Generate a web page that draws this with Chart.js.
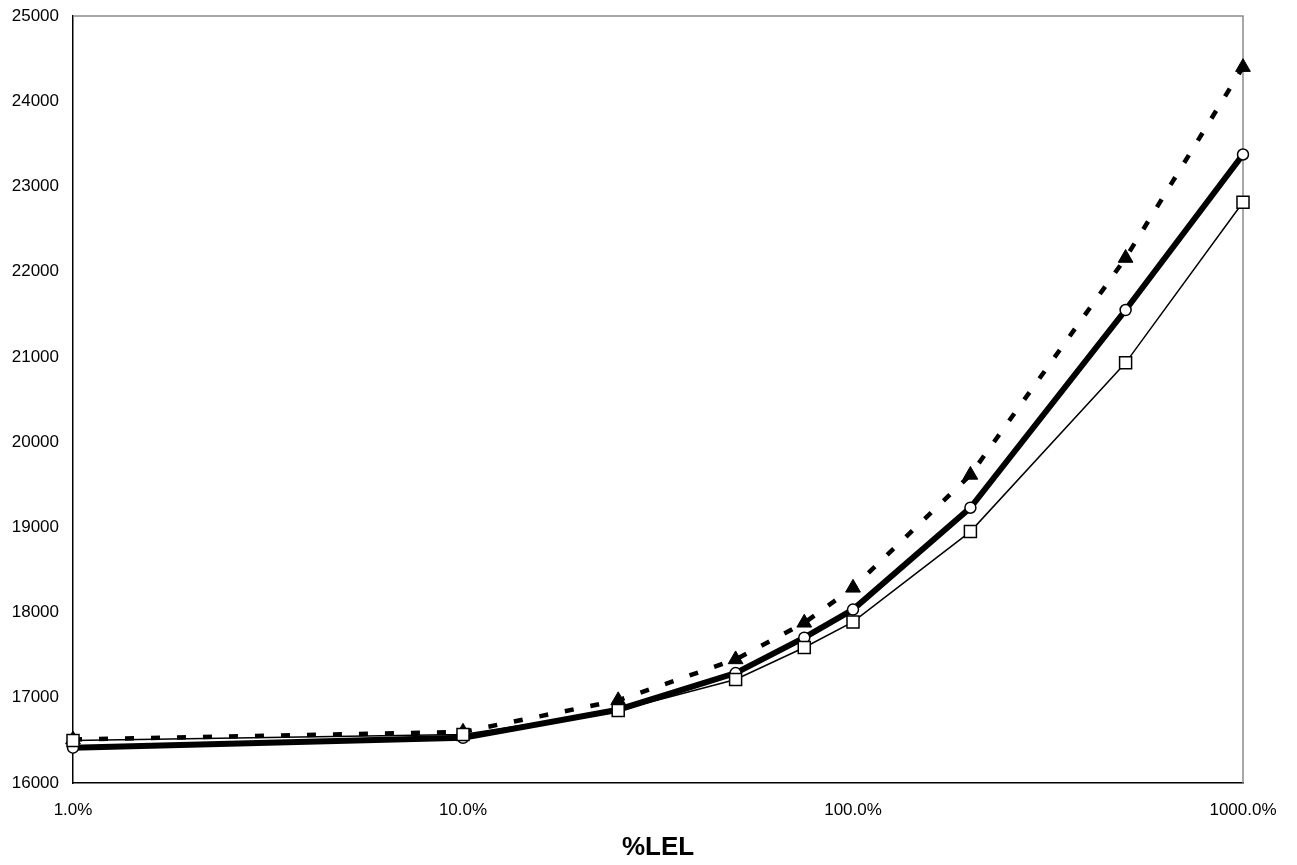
<!DOCTYPE html>
<html>
<head>
<meta charset="utf-8">
<script src="https://cdn.jsdelivr.net/npm/chart.js@4/dist/chart.umd.min.js"></script>
<style>
  html, body { margin: 0; padding: 0; background: #fff; }
  #wrap { width: 1297px; height: 865px; }
</style>
</head>
<body>
<div id="wrap"><canvas id="lelChart" width="1297" height="865"></canvas></div>
<script>
// %LEL values on the (log) x axis
const lel = [1, 10, 25, 50, 75, 100, 200, 500, 1000];
const xTicks = [1, 10, 100, 1000];

// series
const triangleSeries = [16510, 16600, 16970, 17450, 17880, 18290, 19615, 22160, 24400];
const circleSeries   = [16415, 16530, 16860, 17290, 17705, 18035, 19230, 21550, 23375];
const squareSeries   = [16500, 16570, 16850, 17215, 17590, 17890, 18950, 20930, 22815];

const toPoints = vals => lel.map((x, i) => ({ x: x, y: vals[i] }));

// grey frame for the top and right edges of the plot area
const frame = {
  id: 'frame',
  beforeDatasetsDraw(chart) {
    const a = chart.chartArea, c = chart.ctx;
    c.save();
    c.strokeStyle = '#8c8c8c';
    c.lineWidth = 1.5;
    c.beginPath();
    c.moveTo(a.left, a.top);
    c.lineTo(a.right, a.top);
    c.lineTo(a.right, a.bottom);
    c.stroke();
    c.restore();
  }
};

const ctx = document.getElementById('lelChart').getContext('2d');
new Chart(ctx, {
  type: 'line',
  data: {
    datasets: [
      {
        label: 'square',
        data: toPoints(squareSeries),
        clip: false,
        borderColor: '#000',
        borderWidth: 1.5,
        pointStyle: 'rect',
        pointRadius: 8.5,
        pointBackgroundColor: '#fff',
        pointBorderColor: '#000',
        pointBorderWidth: 1.5
      },
      {
        label: 'circle',
        data: toPoints(circleSeries),
        clip: false,
        borderColor: '#000',
        borderWidth: 6,
        pointStyle: 'circle',
        pointRadius: 5.5,
        pointBackgroundColor: '#fff',
        pointBorderColor: '#000',
        pointBorderWidth: 1.5
      },
      {
        label: 'triangle',
        data: toPoints(triangleSeries),
        clip: false,
        borderColor: '#000',
        borderWidth: 4.5,
        borderDash: [9, 17],
        pointStyle: 'triangle',
        pointRadius: 8.5,
        pointBackgroundColor: '#000',
        pointBorderColor: '#000',
        pointBorderWidth: 1
      }
    ]
  },
  options: {
    responsive: false,
    animation: false,
    layout: { padding: { left: 0, right: 54, top: 16, bottom: 0 } },
    plugins: {
      legend: { display: false },
      tooltip: { enabled: false }
    },
    scales: {
      x: {
        type: 'logarithmic',
        min: 1,
        max: 1000,
        afterBuildTicks: axis => { axis.ticks = xTicks.map(v => ({ value: v })); },
        afterFit: axis => { axis.height = 82; },
        grid: { display: false, drawTicks: true, tickLength: 6, tickColor: '#000' },
        border: { display: true, color: '#000', width: 1.5 },
        ticks: {
          color: '#000',
          font: { family: 'Liberation Sans', size: 17 },
          padding: 11,
          maxRotation: 0,
          autoSkip: false,
          callback: v => v.toFixed(1) + '%'
        },
        title: {
          display: true,
          text: '%LEL',
          color: '#000',
          font: { family: 'Liberation Sans', size: 26, weight: 'bold' },
          padding: { top: 4, bottom: 2 }
        }
      },
      y: {
        min: 16000,
        max: 25000,
        afterFit: axis => {
          axis.width = 73;
          axis.paddingTop = 0;
          axis.paddingBottom = 0;
        },
        grid: { display: false, drawTicks: true, tickLength: 6, tickColor: '#000' },
        border: { display: true, color: '#000', width: 1.5 },
        ticks: {
          stepSize: 1000,
          color: '#000',
          font: { family: 'Liberation Sans', size: 17 },
          padding: 8,
          callback: v => String(v)
        }
      }
    }
  },
  plugins: [frame]
});
</script>
</body>
</html>
